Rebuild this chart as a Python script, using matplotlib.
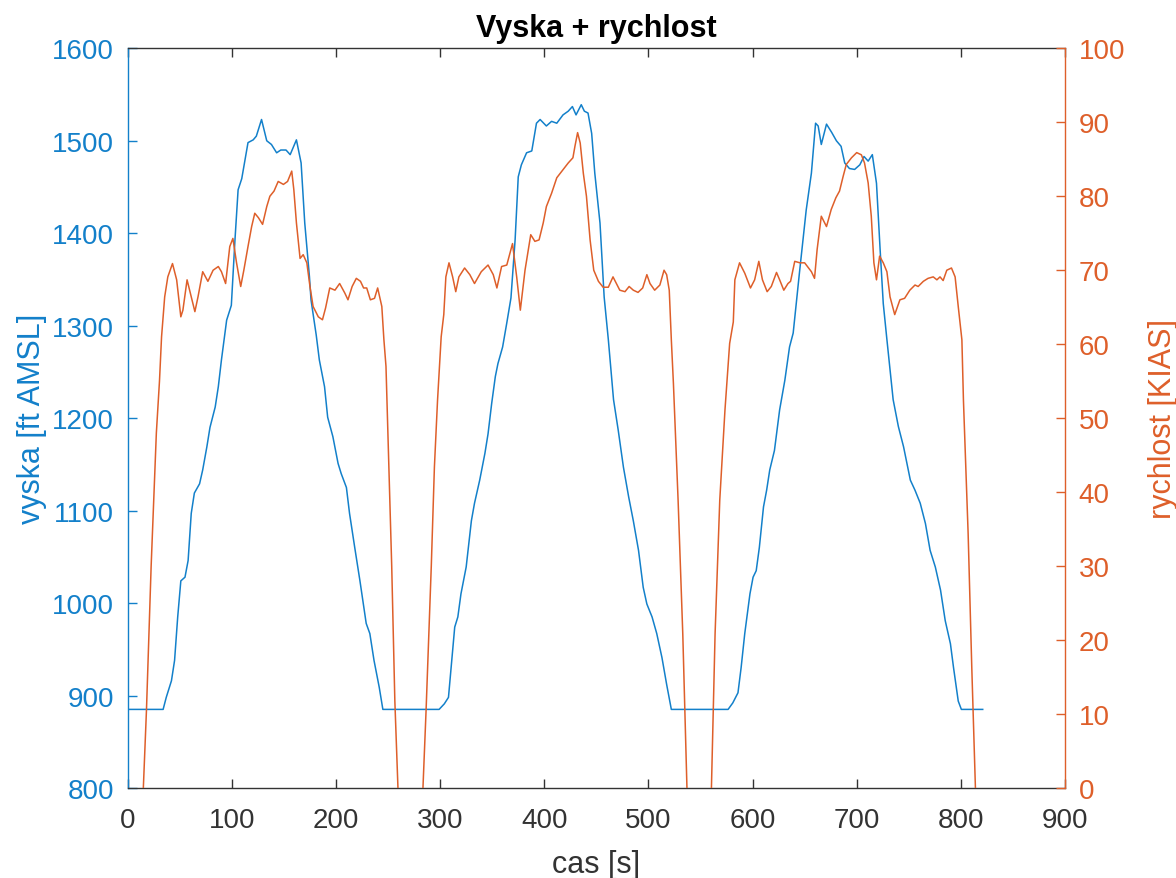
import numpy as np
import matplotlib
matplotlib.use('Agg')
import matplotlib.pyplot as plt

plt.rcParams['font.family'] = ['Liberation Sans', 'DejaVu Sans']

# altitude [ft AMSL] vs time [s]
alt_t = [0, 34, 37, 42, 45, 48, 51, 55, 58, 61, 64, 69, 72, 76, 79, 84, 87, 90, 95, 99.5,
         103, 106, 109.5, 115.5, 120.5, 123.5, 128.5, 133.5, 138, 143, 147, 152, 156, 162, 166.5,
         170, 174.5, 176, 181, 184, 189, 192, 197, 202, 205, 210, 213, 218, 223, 229, 232.5,
         236.5, 241.5, 245,
         299, 304, 308, 310.5, 314, 317, 320, 325, 330, 333, 338, 343, 346, 349.5, 353, 355.5,
         360, 364, 368, 372, 375, 378, 383, 388, 392.5, 396, 402, 407, 412, 418, 423, 427,
         430.5, 435.5, 438.5, 442, 445.5, 448.5, 453.5, 457.5, 461.5, 466.5, 471, 476, 481,
         485.5, 490.5, 495, 498.5, 503.5, 508, 513, 517.5, 522,
         576.5, 581, 586, 589, 592.5, 597.5, 600.5, 603.5, 606.5, 610.5, 613.5, 616.5, 621,
         626, 631, 635.5, 639, 645, 651.5, 656.5, 660.5, 663, 666, 671, 676, 680.5, 685, 688.5,
         693, 698, 703, 707, 711, 715, 719, 722.5, 725.5, 729, 735, 740, 745, 751.5, 756, 761,
         766, 770.5, 775.5, 780.5, 785, 790, 793, 797.5, 800.5, 821]
alt_v = [885, 885, 898, 916, 938, 985, 1024, 1028, 1046, 1097, 1119, 1129, 1144, 1169, 1190,
         1212, 1234, 1263, 1306, 1322,
         1393, 1447, 1459, 1498, 1501, 1505, 1523, 1500, 1496, 1487, 1490, 1490, 1485, 1501, 1476,
         1411, 1353, 1328, 1290, 1263, 1234, 1201, 1180, 1151, 1140, 1125, 1097, 1060, 1024, 978,
         967, 938, 909, 885,
         885, 891, 898, 930, 974, 985, 1010, 1039, 1089, 1108, 1133, 1162, 1183, 1216, 1245, 1259,
         1277, 1303, 1330, 1393, 1461, 1474, 1487, 1489, 1519, 1523, 1516, 1521, 1519, 1528, 1532,
         1537, 1528, 1539, 1532, 1530, 1508, 1465, 1411, 1331, 1285, 1220, 1187, 1147, 1115,
         1089, 1057, 1017, 999, 985, 967, 941, 912, 885,
         885, 892, 903, 930, 967, 1010, 1028, 1035, 1060, 1104, 1122, 1144, 1165,
         1209, 1241, 1277, 1292, 1357, 1425, 1465, 1519, 1516, 1496, 1518, 1509, 1500, 1494, 1476,
         1470, 1469, 1474, 1483, 1478, 1485, 1454, 1382, 1324, 1285, 1220, 1191, 1169, 1133, 1122,
         1108, 1086, 1057, 1039, 1014, 981, 956, 930, 894, 885, 885]

# airspeed [KIAS] vs time [s], nan = line leaves the plot
spd_t = [15, 18, 22.5, 27.5, 30.5, 32.5, 35.5, 38.5, 43, 47, 51, 53, 57, 61, 64.5, 67.5, 72, 77,
         82, 87, 90, 94, 98, 101, 104.5, 108.5, 111.5, 115.5, 119, 122, 125.5, 129.5, 133.5,
         136.5, 140.5, 144.5, 149.5, 153.5, 157.5, 159.5, 162, 165.5, 168.5, 172, 175, 178, 183,
         187, 190, 194, 199, 203.5, 208.5, 211.5, 215.5, 219.5, 223.5, 226.5, 229.5, 233, 237,
         240, 244, 246, 248, 250, 253.5, 256.5, 259.5,
         270,
         283.5, 286.5, 291.5, 294.5, 297.5, 301, 303.5, 305.5, 308.5, 312, 315, 318, 323.5, 328.5,
         333, 339.5, 346, 351, 354.5, 359, 364, 369.5, 373.5, 377, 381.5, 387, 391, 395, 399, 402,
         407, 412, 418, 423, 427.5, 429.5, 432, 434.5, 437.5, 440.5, 444, 447.5, 452, 456.5,
         461.5, 466, 472.5, 477.5, 481.5, 485.5, 490, 494.5, 498.5, 501.5, 506, 511, 515, 517.5,
         520, 522, 524, 528.5, 533, 537,
         548,
         560.5, 564, 568.5, 573.5, 578, 581.5, 583, 587.5, 592.5, 598, 602, 606, 609.5, 614, 618,
         623, 626, 630, 634, 636.5, 640.5, 645.5, 650, 656.5, 659.5, 662, 666, 668.5, 671, 675.5,
         680, 683.5, 687, 690, 695, 700, 704.5, 707.5, 711, 714, 716.5, 719, 722, 725.5, 729,
         732, 736.5, 741.5, 746, 751, 756, 759, 764, 768.5, 773.5, 777, 780, 783, 786.5, 791,
         794.5, 797.5, 801, 802.5, 807, 810.5, 814]
spd_v = [0, 10.5, 30, 48, 55, 61, 66.4, 69.1, 70.9, 68.7, 63.7, 64.6, 68.7, 66.4, 64.4, 66.4, 69.8,
         68.5, 70, 70.5, 69.8, 68.2, 73.2, 74.3, 71, 67.8, 70, 73.2, 75.9, 77.7, 77.1, 76.2, 78.6,
         80, 80.7, 82, 81.6, 82, 83.4, 80.9, 76.4, 71.6, 72.1, 71, 67.8, 65.1, 63.7,
         63.3, 64.9, 67.6, 67.3, 68.2, 66.9, 66, 67.8, 68.9, 68.5, 67.6, 67.6, 66, 66.2,
         67.6, 65.1, 60.6, 57, 47, 30, 11.8, 0,
         np.nan,
         0, 10.5, 30, 43.4, 52.4, 61, 64, 69.1, 71, 69.1, 67.1, 69.1, 70.3, 69.4,
         68.2, 69.8, 70.7, 69.4, 67.6, 70.5, 70.7, 73.6, 69.1, 64.6, 70, 74.8, 73.9, 74.1, 76.4, 78.6,
         80.4, 82.5, 83.6, 84.5, 85.2, 86.8, 88.6, 87.2, 83.1, 80, 74.1, 70, 68.5, 67.7,
         67.7, 69.1, 67.3, 67.1, 67.8, 67.3, 67, 67.6, 69.4, 68.2, 67.3, 68, 70, 69.4,
         67.3, 60.6, 54.7, 38.9, 20.8, 0,
         np.nan,
         0, 20.8, 38.9, 51.1, 60.1, 63, 68.7, 71, 69.6, 67.6, 68.7, 71.2, 68.7, 67.1, 67.8,
         69.7, 68.7, 67.3, 68.2, 68.5, 71.2, 71, 71, 69.8, 68.9, 72.8, 77.3, 76.6, 75.9, 78.2,
         79.8, 80.7, 82.7, 84.3, 85.2, 85.9, 85.6, 84.5, 81.8, 77.3, 71, 68.7, 71.9, 71, 69.8,
         66.4, 64, 66, 66.2, 67.3, 68, 67.8, 68.5, 68.9, 69.1, 68.7, 69.1, 68.6, 70, 70.3,
         69.1, 65.1, 60.6, 52.4, 34.4, 16.3, 0]

blue = '#1380CA'
orange = '#DE5F2A'
dark = '#333333'

fig = plt.figure(figsize=(11.76, 8.79), dpi=100)
ax = fig.add_axes([0.1086, 0.1024, 0.797, 0.8415])
ax2 = ax.twinx()

ax.plot(alt_t, alt_v, color=blue, linewidth=1.1)
ax2.plot(spd_t, spd_v, color=orange, linewidth=1.1)

ax.set_xlim(0, 900)
ax.set_ylim(800, 1600)
ax2.set_ylim(0, 100)
ax.set_xticks(np.arange(0, 901, 100))
ax.set_yticks(np.arange(800, 1601, 100))
ax2.set_yticks(np.arange(0, 101, 10))

ax.spines['left'].set_color(blue)
ax.spines['right'].set_visible(False)
ax.spines['top'].set_color(dark)
ax.spines['bottom'].set_color(dark)
for s in ['left', 'top', 'bottom']:
    ax2.spines[s].set_visible(False)
ax2.spines['right'].set_color(orange)
for a in [ax, ax2]:
    for s in a.spines.values():
        s.set_linewidth(1.0)

ax.tick_params(axis='x', direction='in', top=True, length=6.5, width=1.0, color=dark,
               labelcolor=dark, labelsize=20, pad=14)
ax.tick_params(axis='y', direction='in', length=6.5, width=1.0, color=blue,
               labelcolor=blue, labelsize=20, pad=10)
ax2.tick_params(axis='y', direction='in', length=6.5, width=1.0, color=orange,
                labelcolor=orange, labelsize=20, pad=10)

ax.set_title('Vyska + rychlost', fontsize=22, fontweight='bold', pad=9)
ax.set_xlabel('cas [s]', fontsize=22, color=dark, labelpad=11)
ax.set_ylabel('vyska [ft AMSL]', fontsize=22, color=blue, labelpad=3.5)
ax2.set_ylabel('rychlost [KIAS]', fontsize=22, color=orange, labelpad=16)

fig.savefig('out.png', dpi=100)
